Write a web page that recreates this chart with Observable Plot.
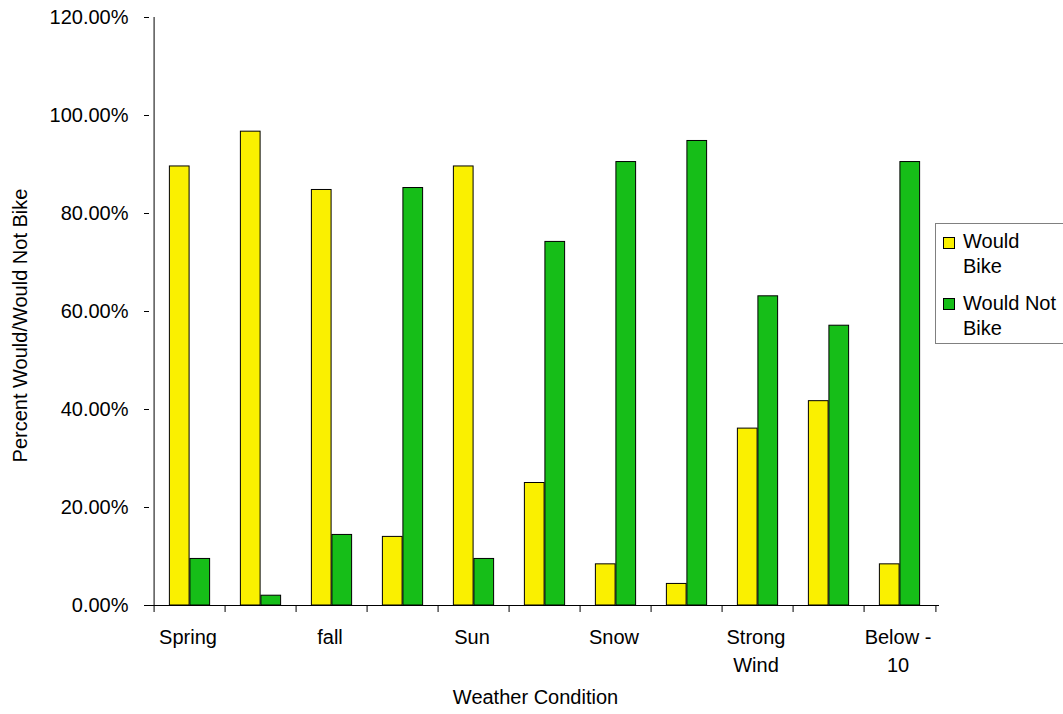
<!DOCTYPE html>
<html>
<head>
<meta charset="utf-8">
<script src="https://cdn.jsdelivr.net/npm/d3@7"></script>
<script src="https://cdn.jsdelivr.net/npm/@observablehq/plot@0.6"></script>
<style>
  body { margin: 0; background: #fff; font-family: "Liberation Sans", Arial, sans-serif; }
  #chart { position: relative; width: 1063px; height: 714px; overflow: hidden; }
  .legend { position: absolute; left: 935px; top: 223px; width: 140px; height: 121px;
            border: 1px solid #808080; background: #fff; box-sizing: border-box; font-size: 20px; color: #000; }
  .legend .sw { position: absolute; width: 10px; height: 10px; border: 1px solid #000; }
  .legend .lab { position: absolute; left: 27px; line-height: 25px; white-space: nowrap; }
</style>
</head>
<body>
<div id="chart"></div>
<script>
// Survey: share of respondents who would / would not bike, by weather condition
const categories = ["Spring", "Summer", "fall", "Winter", "Sun", "Rain", "Snow", "Sleet", "Strong Wind", "Heat", "Below -10"];
const wouldBike    = [89.6, 96.7, 84.8, 14.0, 89.6, 25.0,  8.4,  4.4, 36.1, 41.7,  8.4];
const wouldNotBike = [ 9.5,  2.0, 14.4, 85.2,  9.5, 74.2, 90.5, 94.8, 63.1, 57.1, 90.5];

const yTicks = [0, 20, 40, 60, 80, 100, 120];
const xTickLabels = ["Spring", "fall", "Sun", "Snow", "Strong Wind", "Below -10"];
const wrappedLabels = {"Strong Wind": "Strong\nWind", "Below -10": "Below -\n10"};
const seriesNames = ["Would Bike", "Would Not Bike"];
const seriesColors = ["#FAF000", "#16BE18"];

const W = 1063, H = 714;
const mL = 149, mR = 124, mT = 17, mB = 109;
const band = (W - mL - mR) / categories.length;
const barW = band / 3.5; // two bars per group, 150% gap between groups

const bikeRows = categories.map((c, i) => ({category: c, series: seriesNames[0], value: wouldBike[i]}));
const notRows = categories.map((c, i) => ({category: c, series: seriesNames[1], value: wouldNotBike[i]}));

const chart = Plot.plot({
  width: W, height: H,
  marginLeft: mL, marginRight: mR, marginTop: mT, marginBottom: mB,
  style: {fontFamily: "'Liberation Sans', Arial, sans-serif", fontSize: "20px", color: "#000", background: "#fff", overflow: "visible"},
  x: {domain: categories, padding: 0, axis: null},
  y: {domain: [0, 120], ticks: yTicks, tickFormat: d => d.toFixed(2) + "%", tickSize: 5, tickPadding: 16, label: null},
  marks: [
    Plot.barY(bikeRows, {x: "category", y: "value", fill: seriesColors[0], stroke: "#000", strokeWidth: 1,
      insetLeft: 0.75 * barW, insetRight: 1.75 * barW}),
    Plot.barY(notRows, {x: "category", y: "value", fill: seriesColors[1], stroke: "#000", strokeWidth: 1,
      insetLeft: 1.75 * barW, insetRight: 0.75 * barW}),
    // axis lines
    Plot.ruleY([0], {stroke: "#000"}),
    Plot.ruleX([categories[0]], {dx: -band / 2, y1: () => 0, y2: () => 120, stroke: "#000"}),
    // category boundary ticks
    Plot.ruleX(categories, {x: d => d, dx: -band / 2, y1: () => 0, y2: () => 0, insetBottom: -7, stroke: "#000"}),
    Plot.ruleX([categories[categories.length - 1]], {x: d => d, dx: band / 2, y1: () => 0, y2: () => 0, insetBottom: -7, stroke: "#000"}),
    // category labels (every other one)
    Plot.text(xTickLabels, {x: d => d, text: d => wrappedLabels[d] ?? d, frameAnchor: "bottom", dx: -2, dy: 19,
      lineAnchor: "top", lineHeight: 1.4, fill: "#000"}),
    // axis titles
    Plot.text(["Weather Condition"], {frameAnchor: "bottom", dx: -9, dy: 98, fill: "#000"}),
    Plot.text(["Percent Would/Would Not Bike"], {frameAnchor: "left", textAnchor: "middle", rotate: -90, dx: -129, dy: 14, fill: "#000"})
  ]
});

const root = document.getElementById("chart");
root.appendChild(chart);

// legend box on the right
const legend = document.createElement("div");
legend.className = "legend";
const entries = [
  {lines: ["Would", "Bike"], color: seriesColors[0], swTop: 13, labTop: 5},
  {lines: ["Would Not", "Bike"], color: seriesColors[1], swTop: 74, labTop: 67}
];
entries.forEach(e => {
  const sw = document.createElement("div");
  sw.className = "sw";
  sw.style.left = "7px";
  sw.style.top = e.swTop + "px";
  sw.style.background = e.color;
  legend.appendChild(sw);
  const lab = document.createElement("div");
  lab.className = "lab";
  lab.style.top = e.labTop + "px";
  lab.innerHTML = e.lines.join("<br>");
  legend.appendChild(lab);
});
root.appendChild(legend);
</script>
</body>
</html>
